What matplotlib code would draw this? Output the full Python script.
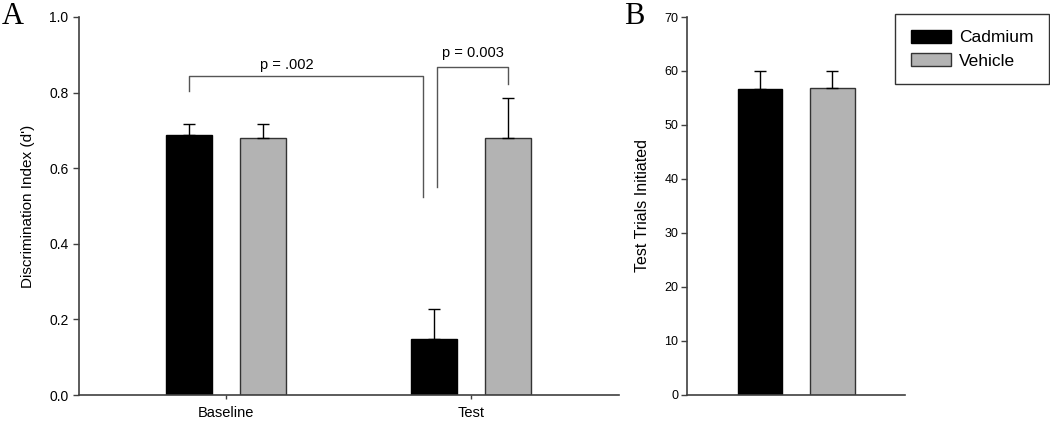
import matplotlib
matplotlib.use("Agg")
import matplotlib.pyplot as plt
from matplotlib.patches import Patch
import numpy as np

plt.rcParams['font.family'] = ['Liberation Sans', 'DejaVu Sans']

# ---- data ----
groups = ["Baseline", "Test"]
series = ["Cadmium", "Vehicle"]
a_cadmium = [0.688, 0.148]
a_cadmium_err = [0.028, 0.080]
a_vehicle = [0.679, 0.681]
a_vehicle_err = [0.038, 0.106]

b_values = [56.6, 56.9]
b_err = [3.4, 3.0]

p_labels = ["p = .002", "p = 0.003"]

colors = ["#000000", "#b3b3b3"]
edges = ["#000000", "#333333"]
spine_col = "#404040"

fig = plt.figure(figsize=(10.5, 4.23), dpi=100)
axA = fig.add_axes([79/1050, 1-395/423, 540/1050, 378/423])
axB = fig.add_axes([686.7/1050, 1-394.5/423, 218.3/1050, 377.5/423])

x = np.arange(len(groups))
off = 0.151
w = 0.184
pos_c = x - off
pos_v = x + off
ekw = dict(ecolor="black", elinewidth=1.0, capthick=1.0)
axA.bar(pos_c, a_cadmium, w, color=colors[0], edgecolor=edges[0], linewidth=1,
        yerr=[np.zeros(2), a_cadmium_err], capsize=4, error_kw=ekw, zorder=2)
axA.bar(pos_v, a_vehicle, w, color=colors[1], edgecolor=edges[1], linewidth=1,
        yerr=[np.zeros(2), a_vehicle_err], capsize=4, error_kw=ekw, zorder=2)
axA.set_xlim(-0.6, 1.604)
axA.set_ylim(0, 1.0)
axA.set_yticks(np.arange(0, 1.01, 0.2))
axA.set_yticklabels([f"{v:.1f}" for v in np.arange(0, 1.01, 0.2)])
axA.set_xticks(x)
axA.set_xticklabels(groups)
axA.set_ylabel("Discrimination Index (d')", fontsize=11, labelpad=10)

# brackets
bc = "#555555"
lx1 = pos_c[0]; rx1 = x[1] - 0.197
axA.plot([lx1, lx1, rx1, rx1], [0.805, 0.844, 0.844, 0.525], color=bc, lw=1)
lx2 = x[1] - 0.138; rx2 = pos_v[1]
axA.plot([lx2, lx2, rx2, rx2], [0.551, 0.867, 0.867, 0.823], color=bc, lw=1)
axA.text(0.248, 0.873, p_labels[0], ha="center", va="center", fontsize=10.5)
axA.text(1.008, 0.904, p_labels[1], ha="center", va="center", fontsize=10.5)

# panel B
xb = np.arange(2)
axB.bar(xb, b_values, 0.615, color=colors, edgecolor=edges, linewidth=1,
        yerr=[np.zeros(2), b_err], capsize=4, error_kw=ekw, zorder=2)
axB.set_xlim(-1.014, 2.005)
axB.set_ylim(0, 70)
axB.set_yticks(np.arange(0, 71, 10))
axB.set_xticks([])
axB.set_ylabel("Test Trials Initiated", fontsize=11.5, labelpad=10)

for ax in (axA, axB):
    for s in ("top", "right"):
        ax.spines[s].set_visible(False)
    for s in ("left", "bottom"):
        ax.spines[s].set_color(spine_col)
        ax.spines[s].set_linewidth(1.2)
    ax.tick_params(axis="x", direction="out", length=3, width=1, color=spine_col,
                   labelsize=10.5, pad=5)
axA.tick_params(axis="y", direction="out", length=4.5, width=1, color=spine_col,
                labelsize=10, pad=3)
axB.tick_params(axis="y", direction="out", length=4, width=1, color=spine_col,
                labelsize=9, pad=2)

fig.text(2/1050, 1-2/423, "A", fontsize=22, family="Liberation Serif", ha="left", va="top")
fig.text(624/1050, 1-2/423, "B", fontsize=22, family="Liberation Serif", ha="left", va="top")

handles = [Patch(facecolor=colors[0], edgecolor=edges[0], linewidth=1),
           Patch(facecolor=colors[1], edgecolor=edges[1], linewidth=1)]
leg = fig.legend(handles, series, loc="upper left",
                 bbox_to_anchor=(895/1050, 1-14/423), borderaxespad=0,
                 fontsize=12.5, handlelength=2.3, handleheight=0.8,
                 handletextpad=0.5, borderpad=0.9, labelspacing=0.45,
                 frameon=True, fancybox=False, edgecolor="black")
leg.get_frame().set_linewidth(1.0)

fig.savefig("out.png", dpi=100)
